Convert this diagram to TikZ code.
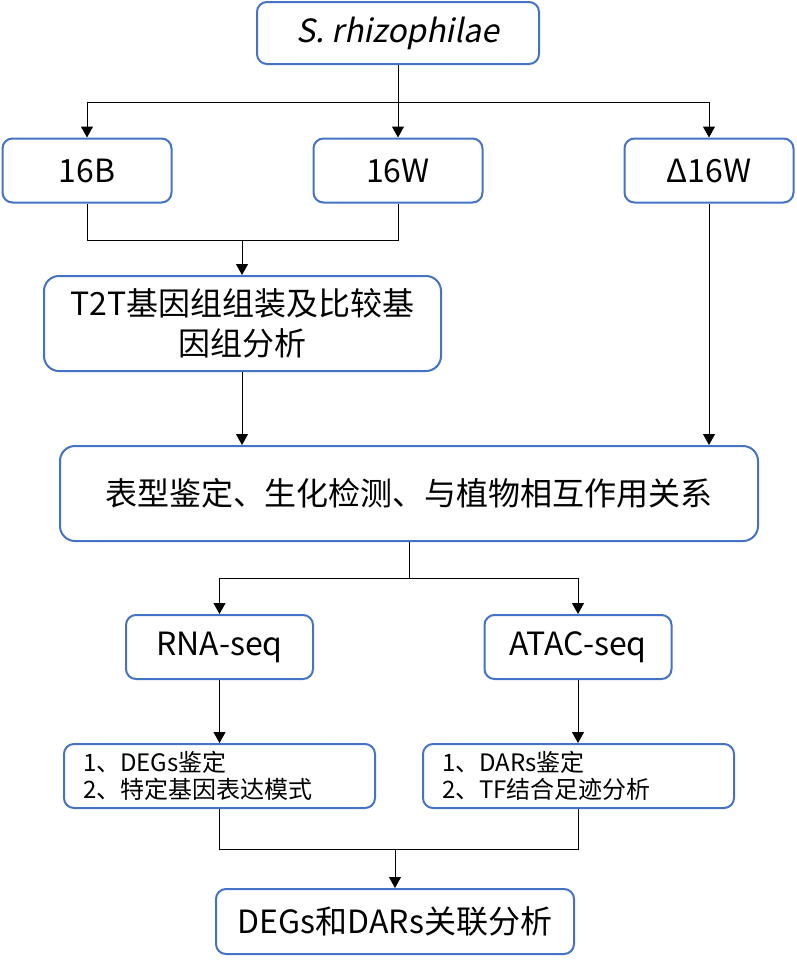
\documentclass[tikz,border=0pt]{standalone}
\usepackage{fontspec}
\setmainfont{Noto Sans CJK SC}
\newfontfamily\slantfont{Noto Sans CJK SC}[FakeSlant=0.2]
\usetikzlibrary{arrows.meta}
\definecolor{boxblue}{HTML}{4472C4}
\tikzstyle{step box}=[draw=boxblue,line width=2pt,rounded corners=10pt,inner sep=0pt,align=center,font=\fontsize{32pt}{40pt}\selectfont]
\tikzstyle{big box}=[step box,rounded corners=15pt]
\tikzstyle{list box}=[step box,align=left,font=\fontsize{24pt}{27pt}\selectfont]
\tikzstyle{flow}=[-{Triangle[length=11pt,width=12pt]},line width=1pt]
\tikzstyle{link}=[line width=1pt]

\begin{document}
\begin{tikzpicture}[x=1pt,y=-1pt]
                  \useasboundingbox (0,0) rectangle (796,962);

                  \node (src) at (398,33) [step box,minimum width=282pt,minimum height=62pt] {\slantfont S. rhizophilae};

                  \node (b16) at (87,170.5) [step box,minimum width=169pt,minimum height=64pt] {16B};
                  \node (w16) at (398,170.5) [step box,minimum width=169pt,minimum height=64pt] {16W};
                  \node (dw16) at (709,170.5) [step box,minimum width=169pt,minimum height=64pt] {Δ16W};

                  \node (t2t) at (242.5,323.5) [big box,minimum width=397pt,minimum height=95pt] {T2T基因组组装及比较基\\因组分析};
                  \node (pheno) at (409,493.5) [big box,minimum width=698pt,minimum height=95pt] {表型鉴定、生化检测、与植物相互作用关系};

                  \node (rna) at (219.5,647) [step box,minimum width=187pt,minimum height=64pt] {RNA-seq};
                  \node (atac) at (578,647) [step box,minimum width=187pt,minimum height=64pt] {ATAC-seq};

                  \node (degs) at (219.5,776) [list box,minimum width=311pt,minimum height=64pt,text width=273pt] {1、DEGs鉴定\\2、特定基因表达模式};
                  \node (dars) at (578.5,776) [list box,minimum width=311pt,minimum height=64pt,text width=273pt] {1、DARs鉴定\\2、TF结合足迹分析};

                  \node (joint) at (395,921.5) [step box,minimum width=358pt,minimum height=65pt] {DEGs和DARs关联分析};

                  \coordinate (split1) at (398,102);
                  \coordinate (join1) at (242,240);
                  \coordinate (split2) at (409,578);
                  \coordinate (join2) at (395,849);

                  \draw [flow] (src.south) -- (w16.north);
                  \draw [flow] (split1) -| (b16.north);
                  \draw [flow] (split1) -| (dw16.north);

                  \draw [link] (b16.south) |- (join1);
                  \draw [link] (w16.south) |- (join1);
                  \draw [flow] (join1) -- (t2t.north -| join1);

                  \draw [flow] (t2t.south -| join1) -- (pheno.north -| join1);
                  \draw [flow] (dw16.south) -- (pheno.north -| dw16.south);

                  \draw [link] (pheno.south -| split2) -- (split2);
                  \draw [flow] (split2) -| (rna.north);
                  \draw [flow] (split2) -| (atac.north);

                  \draw [flow] (rna.south) -- (degs.north -| rna.south);
                  \draw [flow] (atac.south) -- (dars.north -| atac.south);

                  \draw [link] (degs.south) |- (join2);
                  \draw [link] (dars.south) |- (join2);
                  \draw [flow] (join2) -- (joint.north);
              \end{tikzpicture}
\end{document}
